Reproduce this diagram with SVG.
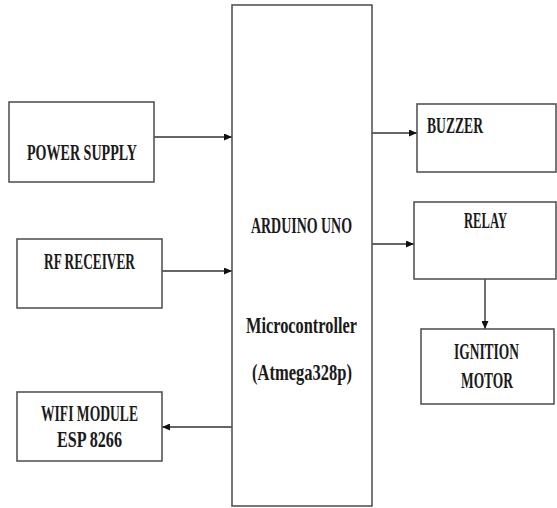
<svg xmlns="http://www.w3.org/2000/svg" width="557" height="508" viewBox="0 0 557 508">
<style>
.box{fill:#fff;stroke:#555;stroke-width:1.6}
.lbl{font-family:"Liberation Serif","DejaVu Serif",serif;font-weight:bold;font-size:17px;fill:#1a1a1a;text-anchor:middle}
.con{fill:none;stroke:#333;stroke-width:1.4}
</style>
<defs>
<marker id="ah" viewBox="0 0 10 10" refX="10" refY="5" markerWidth="8" markerHeight="7" markerUnits="userSpaceOnUse" orient="auto" preserveAspectRatio="none">
<path d="M0,0 L10,5 L0,10 z" fill="#111"/>
</marker>
</defs>
<rect width="557" height="508" fill="#fff"/>
<g id="connectors">
<line class="con" x1="154" y1="137" x2="232" y2="137" marker-end="url(#ah)"/>
<line class="con" x1="162" y1="271" x2="232" y2="271" marker-end="url(#ah)"/>
<line class="con" x1="232" y1="427" x2="162" y2="427" marker-end="url(#ah)"/>
<line class="con" x1="372" y1="133" x2="417" y2="133" marker-end="url(#ah)"/>
<line class="con" x1="372" y1="244" x2="414" y2="244" marker-end="url(#ah)"/>
<line class="con" x1="485" y1="279" x2="485" y2="329" marker-end="url(#ah)"/>
</g>
<g id="arduino">
<rect class="box" x="232" y="5" width="140" height="501"/>
<text class="lbl" x="301.5" y="0" transform="translate(0,233) scale(1,1.35)" textLength="101" lengthAdjust="spacingAndGlyphs">ARDUINO UNO</text>
<text class="lbl" x="301.5" y="0" transform="translate(0,333) scale(1,1.35)" textLength="111" lengthAdjust="spacingAndGlyphs">Microcontroller</text>
<text class="lbl" x="302" y="0" transform="translate(0,380) scale(1,1.35)" textLength="100" lengthAdjust="spacingAndGlyphs">(Atmega328p)</text>
</g>
<g id="power">
<rect class="box" x="9" y="102" width="145" height="80"/>
<text class="lbl" x="82" y="0" transform="translate(0,160) scale(1,1.35)" textLength="110" lengthAdjust="spacingAndGlyphs">POWER SUPPLY</text>
</g>
<g id="rf">
<rect class="box" x="17" y="239" width="145" height="69"/>
<text class="lbl" x="89.5" y="0" transform="translate(0,269) scale(1,1.35)" textLength="91" lengthAdjust="spacingAndGlyphs">RF RECEIVER</text>
</g>
<g id="wifi">
<rect class="box" x="17" y="392" width="145" height="69"/>
<text class="lbl" x="89.5" y="0" transform="translate(0,421) scale(1,1.35)" textLength="97" lengthAdjust="spacingAndGlyphs">WIFI MODULE</text>
<text class="lbl" x="89.5" y="0" transform="translate(0,447) scale(1,1.35)" textLength="65" lengthAdjust="spacingAndGlyphs">ESP 8266</text>
</g>
<g id="buzzer">
<rect class="box" x="417" y="104" width="139" height="68"/>
<text class="lbl" x="455" y="0" transform="translate(0,133) scale(1,1.35)" textLength="56" lengthAdjust="spacingAndGlyphs">BUZZER</text>
</g>
<g id="relay">
<rect class="box" x="414" y="202" width="142" height="77"/>
<text class="lbl" x="485.5" y="0" transform="translate(0,228) scale(1,1.35)" textLength="43" lengthAdjust="spacingAndGlyphs">RELAY</text>
</g>
<g id="ignition">
<rect class="box" x="421" y="329" width="133" height="75"/>
<text class="lbl" x="486.5" y="0" transform="translate(0,359) scale(1,1.35)" textLength="65" lengthAdjust="spacingAndGlyphs">IGNITION</text>
<text class="lbl" x="487" y="0" transform="translate(0,388) scale(1,1.35)" textLength="52" lengthAdjust="spacingAndGlyphs">MOTOR</text>
</g>
</svg>
